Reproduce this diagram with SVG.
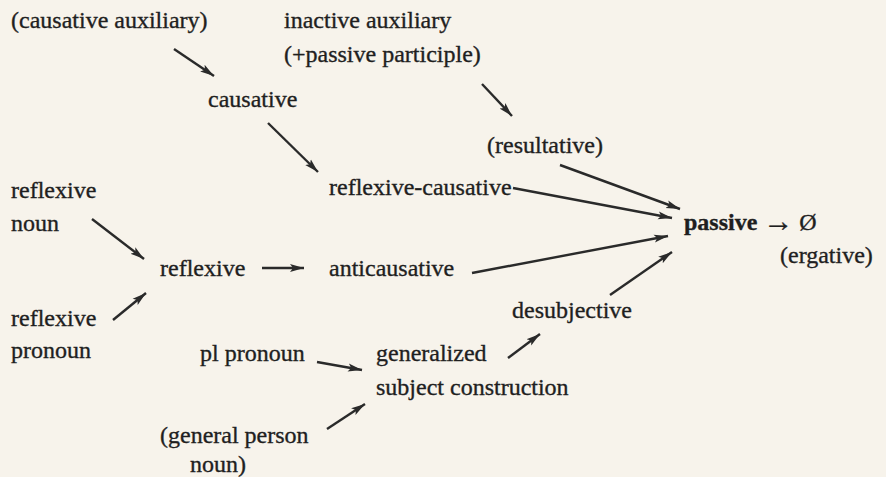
<svg xmlns="http://www.w3.org/2000/svg" width="886" height="477" viewBox="0 0 886 477">
<defs>
<style>
text{font-family:"Liberation Serif","Times New Roman",serif;font-size:24px;fill:#1f1f1f;stroke:#1f1f1f;stroke-width:0.35}
.b{font-weight:bold}
.ar{font-size:30px}
.c line{stroke:#2a2a2a;stroke-width:2.4;marker-end:url(#ah)}
</style>
<marker id="ah" markerUnits="userSpaceOnUse" markerWidth="16" markerHeight="10" refX="14" refY="5" orient="auto">
<path d="M0,1 L14,5 L0,9 L3,5 Z" fill="#2a2a2a"/>
</marker>
</defs>
<rect width="886" height="477" fill="#f7f3eb"/>
<g id="n-causaux"><text x="11" y="28">(causative auxiliary)</text></g>
<g id="n-inactive"><text x="284" y="28">inactive auxiliary</text><text x="284" y="62">(+passive participle)</text></g>
<g id="n-causative"><text x="208" y="107">causative</text></g>
<g id="n-resultative"><text x="487" y="153">(resultative)</text></g>
<g id="n-refcaus"><text x="329" y="195">reflexive-causative</text></g>
<g id="n-refnoun"><text x="11" y="198">reflexive</text><text x="11" y="231">noun</text></g>
<g id="n-passive"><text x="684" y="230"><tspan class="b">passive</tspan> <tspan class="ar" dy="1">→</tspan><tspan dy="-1"> Ø</tspan></text></g>
<g id="n-ergative"><text x="780" y="263">(ergative)</text></g>
<g id="n-reflexive"><text x="160" y="276">reflexive</text></g>
<g id="n-anticaus"><text x="329" y="276">anticausative</text></g>
<g id="n-refpron"><text x="11" y="326">reflexive</text><text x="11" y="358">pronoun</text></g>
<g id="n-desubj"><text x="512" y="318">desubjective</text></g>
<g id="n-plpron"><text x="200" y="361">pl pronoun</text></g>
<g id="n-gensubj"><text x="376" y="361">generalized</text><text x="376" y="395">subject construction</text></g>
<g id="n-genperson"><text x="160" y="443">(general person</text><text x="190" y="472">noun)</text></g>
<g class="c" id="connectors">
<line x1="174" y1="49" x2="214" y2="76"/>
<line x1="482" y1="84" x2="512" y2="116"/>
<line x1="268" y1="123" x2="318" y2="172"/>
<line x1="92" y1="219" x2="144" y2="259"/>
<line x1="113" y1="320" x2="146" y2="293"/>
<line x1="262" y1="268" x2="304" y2="268"/>
<line x1="513" y1="188" x2="672" y2="218"/>
<line x1="560" y1="165" x2="680" y2="209"/>
<line x1="472" y1="273" x2="668" y2="236"/>
<line x1="610" y1="295" x2="672" y2="252"/>
<line x1="508" y1="358" x2="540" y2="334"/>
<line x1="317" y1="362" x2="362" y2="370"/>
<line x1="327" y1="429" x2="365" y2="404"/>
</g>
</svg>
